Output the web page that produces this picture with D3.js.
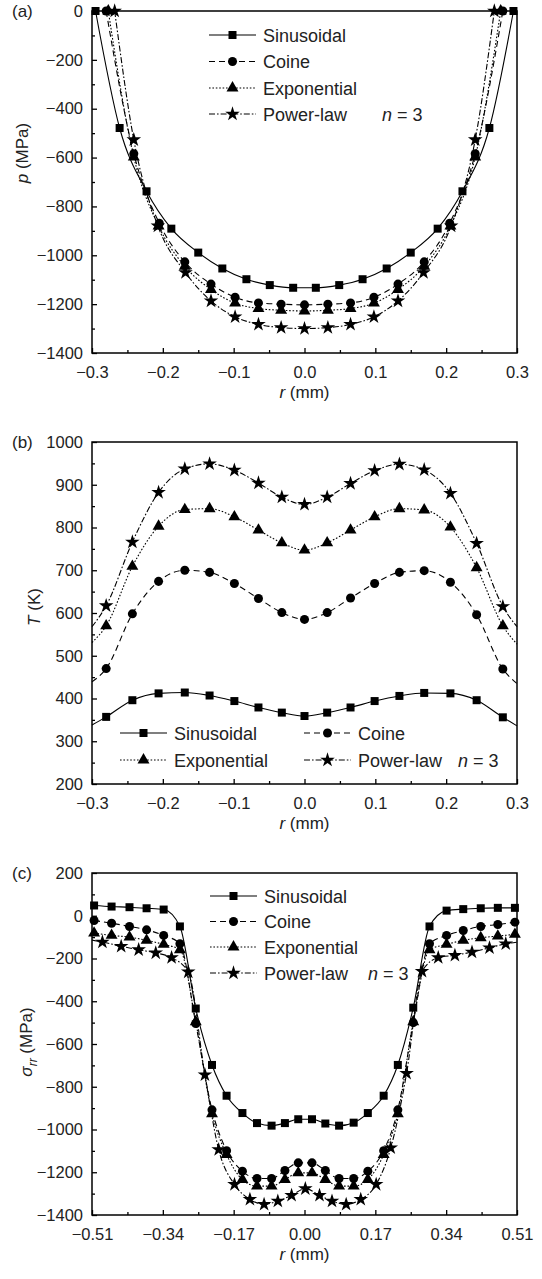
<!DOCTYPE html>
<html>
<head>
<meta charset="utf-8">
<script src="https://cdn.jsdelivr.net/npm/d3@7"></script>
<style>
body{margin:0;background:#fff}
svg{display:block;font-family:"Liberation Sans",Arial,sans-serif}
</style>
</head>
<body>
<div id="chart"></div>
<script>
// ---- panel (a): contact pressure p (MPa) vs r (mm)
var aSinR = [-0.295,-0.261,-0.223,-0.188,-0.150,-0.116,-0.082,-0.049,-0.016,0.016,0.049,0.082,0.116,0.150,0.188,0.223,0.261,0.295]
var aSinV = [0,-479,-738,-891,-989,-1054,-1098,-1122,-1133,-1133,-1122,-1098,-1054,-989,-891,-738,-479,0]
var aCosR = [-0.280,-0.241,-0.205,-0.169,-0.132,-0.098,-0.065,-0.033,0,0.033,0.065,0.098,0.132,0.169,0.205,0.241,0.280]
var aCosV = [0,-584,-869,-1027,-1118,-1172,-1195,-1200,-1203,-1200,-1195,-1172,-1118,-1027,-869,-584,0]
var aExpR = [-0.277,-0.241,-0.206,-0.169,-0.132,-0.098,-0.065,-0.033,0,0.033,0.065,0.098,0.132,0.169,0.206,0.241,0.277]
var aExpV = [0,-598,-880,-1045,-1140,-1196,-1218,-1225,-1228,-1225,-1218,-1196,-1140,-1045,-880,-598,0]
var aPowR = [-0.268,-0.241,-0.207,-0.168,-0.132,-0.098,-0.065,-0.033,0,0.033,0.065,0.098,0.132,0.168,0.207,0.241,0.268]
var aPowV = [0,-527,-880,-1071,-1187,-1252,-1283,-1296,-1300,-1296,-1283,-1252,-1187,-1071,-880,-527,0]

// ---- panel (b): temperature T (K) vs r (mm); first and last points are line ends only
var bR    = [-0.3,-0.280,-0.243,-0.206,-0.169,-0.134,-0.099,-0.065,-0.032,0,0.032,0.065,0.099,0.134,0.169,0.206,0.243,0.280,0.3]
var bSinV = [338,357,396,412,414,407,394,379,367,359,367,379,394,406,413,412,396,356,336]
var bCosV = [439,470,598,674,700,695,669,634,601,585,601,635,669,695,699,672,596,469,435]
var bExpV = [531,570,709,803,842,844,825,794,764,747,764,794,825,844,841,801,706,570,527]
var bPowV = [568,617,766,882,937,949,934,904,871,854,871,903,933,948,935,880,763,615,568]

// ---- panel (c): radial stress sigma_rr (MPa) vs r (mm)
var cR    = [-0.505,-0.463,-0.420,-0.379,-0.338,-0.299,-0.261,-0.222,-0.187,-0.149,-0.114,-0.079,-0.047,-0.015,0.018,0.050,0.083,0.118,0.152,0.190,0.224,0.261,0.300,0.341,0.381,0.423,0.464,0.505]
var cSinV = [48,43,40,35,29,-50,-434,-698,-842,-923,-970,-982,-970,-952,-952,-972,-982,-968,-923,-842,-698,-430,-50,24,31,35,37,37]
var cCosV = [-22,-35,-50,-66,-92,-131,-504,-908,-1099,-1195,-1229,-1229,-1192,-1156,-1156,-1192,-1229,-1229,-1195,-1099,-908,-500,-131,-92,-69,-50,-41,-30]
var cExpV = [-81,-92,-100,-115,-134,-159,-496,-926,-1117,-1234,-1265,-1265,-1234,-1203,-1203,-1234,-1265,-1265,-1234,-1117,-926,-496,-159,-134,-115,-103,-95,-87]
// power-law: first and last points are line ends only
var cPowR = [-0.51,-0.485,-0.440,-0.398,-0.357,-0.319,-0.279,-0.239,-0.206,-0.168,-0.131,-0.097,-0.064,-0.031,0.002,0.036,0.066,0.100,0.135,0.172,0.207,0.245,0.282,0.321,0.361,0.402,0.444,0.483,0.51]
var cPowV = [-114,-123,-143,-159,-174,-196,-263,-744,-1094,-1257,-1327,-1350,-1335,-1308,-1277,-1308,-1335,-1350,-1327,-1257,-1086,-737,-260,-196,-185,-170,-150,-131,-124]

// ---- ticks
var abXTicks = [-0.3,-0.2,-0.1,0,0.1,0.2,0.3]
var abXMinor = [-0.25,-0.15,-0.05,0.05,0.15,0.25]
var cXTicks = [-0.51,-0.34,-0.17,0,0.17,0.34,0.51]
var cXMinor = [-0.425,-0.255,-0.085,0.085,0.255,0.425]
var aYTicks = [0,-200,-400,-600,-800,-1000,-1200,-1400]
var aYMinor = [-100,-300,-500,-700,-900,-1100,-1300]
var bYTicks = [200,300,400,500,600,700,800,900,1000]
var bYMinor = [250,350,450,550,650,750,850,950]
var cYTicks = [200,0,-200,-400,-600,-800,-1000,-1200,-1400]
var cYMinor = [100,-100,-300,-500,-700,-900,-1100,-1300]

var names = ["Sinusoidal","Coine","Exponential","Power-law"]

var width = 542, height = 1279
var L = 92, R = 517, PH = 342
var ink = "#222"

var styles = [
	{sym: d3.symbolSquare, size: 64, dash: null},
	{sym: d3.symbolCircle, size: 64, dash: "6,4"},
	{sym: d3.symbolTriangle, size: 62, dash: "1.6,1.8"},
	{sym: d3.symbolStar, size: 66, dash: "6,2,1.6,2"}
]

const svg = d3.select("#chart").append("svg").attr("width", width).attr("height", height)

function drawPanel(p){
	var top = p.top, bot = p.top + PH
	var x = d3.scaleLinear().domain(p.xDom).range([L, R])
	var y = d3.scaleLinear().domain(p.yDom).range([bot, top])
	var g = svg.append("g")

//axes
	g.append("g").attr("transform", "translate(0," + bot + ")")
		.call(d3.axisBottom(x).tickValues(p.xMinor).tickSize(-3).tickFormat(""))
	g.append("g").attr("transform", "translate(0," + bot + ")")
		.call(d3.axisBottom(x).tickValues(p.xTicks).tickSize(-5).tickPadding(13).tickFormat(d3.format(p.xFmt)))
	g.append("g").attr("transform", "translate(" + L + ",0)")
		.call(d3.axisLeft(y).tickValues(p.yMinor).tickSize(-3).tickFormat(""))
	g.append("g").attr("transform", "translate(" + L + ",0)")
		.call(d3.axisLeft(y).tickValues(p.yTicks).tickSize(-5).tickPadding(9).tickFormat(d3.format("d")))
	g.selectAll(".domain").remove()
	g.selectAll(".tick line").attr("stroke", "#000").attr("stroke-width", 1.3)
	g.selectAll(".tick text").attr("fill", ink).attr("font-size", 16.5).attr("font-family", null)
	g.selectAll("g").attr("font-family", null).attr("font-size", null)

//frame
	g.append("rect").attr("x", L).attr("y", top).attr("width", R - L).attr("height", PH)
		.attr("fill", "none").attr("stroke", "#000").attr("stroke-width", 1.5)

//series
	p.series.forEach(function(s, i){
		var st = styles[i]
		var pts = s.r.map(function(d, j){ return [d, s.v[j]] })
		var line = d3.line().x(d => x(d[0])).y(d => y(d[1])).curve(d3.curveMonotoneX)
		g.append("path").datum(pts).attr("d", line)
			.attr("fill", "none").attr("stroke", "#000").attr("stroke-width", 1.1)
			.attr("stroke-dasharray", st.dash)
		var mpts = s.ends ? pts.slice(1, pts.length - 1) : pts
		g.append("g").selectAll("path").data(mpts).join("path")
			.attr("d", d3.symbol().type(st.sym).size(st.size))
			.attr("transform", d => "translate(" + x(d[0]) + "," + y(d[1]) + ")")
			.attr("fill", "#000")
	})

//legend
	p.legend.forEach(function(it, i){
		var st = styles[i]
		g.append("line").attr("x1", it[0]).attr("x2", it[0] + 47).attr("y1", it[1]).attr("y2", it[1])
			.attr("stroke", "#000").attr("stroke-width", 1.1).attr("stroke-dasharray", st.dash)
		g.append("path").attr("d", d3.symbol().type(st.sym).size(st.size)())
			.attr("transform", "translate(" + (it[0] + 23.5) + "," + it[1] + ")").attr("fill", "#000")
		g.append("text").attr("x", it[0] + 54).attr("y", it[1] + 6.5)
			.attr("font-size", 18).attr("fill", ink).text(names[i])
	})
	g.append("text").attr("x", p.nx).attr("y", p.ny + 6.5).attr("font-size", 18).attr("fill", ink)
		.call(t => t.append("tspan").attr("font-style", "italic").text("n"))
		.call(t => t.append("tspan").text(" = 3"))

//labels
	g.append("text").attr("x", 12).attr("y", top + 6).attr("font-size", 17).attr("fill", ink).text(p.tag)
	g.append("text").attr("x", (L + R) / 2).attr("y", bot + 45).attr("text-anchor", "middle")
		.attr("font-size", 17).attr("fill", ink)
		.call(t => t.append("tspan").attr("font-style", "italic").text("r"))
		.call(t => t.append("tspan").text(" (mm)"))
	var yt = g.append("text").attr("transform", "translate(" + p.yLabX + "," + p.yLabY + ") rotate(-90)")
		.attr("text-anchor", "middle").attr("font-size", 17).attr("fill", ink)
	p.yLab(yt)
}

drawPanel({
	tag: "(a)", top: 11, xDom: [-0.3, 0.3], yDom: [-1400, 0], xFmt: ".1f",
	xTicks: abXTicks, xMinor: abXMinor, yTicks: aYTicks, yMinor: aYMinor,
	series: [{r: aSinR, v: aSinV}, {r: aCosR, v: aCosV}, {r: aExpR, v: aExpV}, {r: aPowR, v: aPowV}],
	legend: [[209, 35], [209, 61.5], [209, 88], [209, 114]], nx: 382, ny: 114,
	yLabX: 28, yLabY: 153,
	yLab: t => { t.append("tspan").attr("font-style", "italic").text("p"); t.append("tspan").text(" (MPa)") }
})

drawPanel({
	tag: "(b)", top: 442, xDom: [-0.3, 0.3], yDom: [200, 1000], xFmt: ".1f",
	xTicks: abXTicks, xMinor: abXMinor, yTicks: bYTicks, yMinor: bYMinor,
	series: [{r: bR, v: bSinV, ends: true}, {r: bR, v: bCosV, ends: true}, {r: bR, v: bExpV, ends: true}, {r: bR, v: bPowV, ends: true}],
	legend: [[120, 733], [304, 733], [120, 760], [304, 760]], nx: 458, ny: 760,
	yLabX: 40, yLabY: 607,
	yLab: t => { t.append("tspan").attr("font-style", "italic").text("T"); t.append("tspan").text(" (K)") }
})

drawPanel({
	tag: "(c)", top: 873, xDom: [-0.51, 0.51], yDom: [-1400, 200], xFmt: ".2f",
	xTicks: cXTicks, xMinor: cXMinor, yTicks: cYTicks, yMinor: cYMinor,
	series: [{r: cR, v: cSinV}, {r: cR, v: cCosV}, {r: cR, v: cExpV}, {r: cPowR, v: cPowV, ends: true}],
	legend: [[210, 896], [210, 921.5], [210, 947], [210, 973]], nx: 368, ny: 973,
	yLabX: 32, yLabY: 1042,
	yLab: t => {
		t.append("tspan").attr("font-style", "italic").text("σ")
		t.append("tspan").attr("font-style", "italic").attr("font-size", 12).attr("dy", 5).text("rr")
		t.append("tspan").attr("dy", -5).text("  (MPa)")
	}
})
</script>
</body>
</html>
